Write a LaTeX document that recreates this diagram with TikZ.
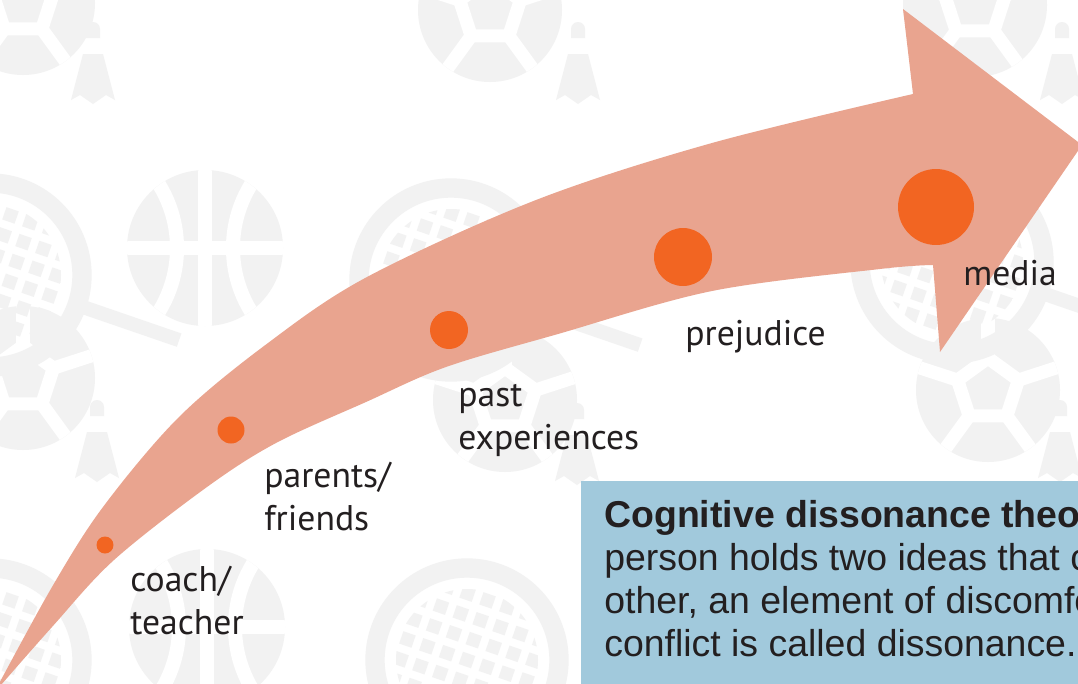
\documentclass[tikz,border=0pt]{standalone}
\usepackage{fontspec}
\setmainfont{PT Sans}
\newfontfamily\boxfont{Liberation Sans}
\usetikzlibrary{positioning}

\definecolor{patgray}{RGB}{242, 242, 242}
\definecolor{arrowpink}{RGB}{233, 164, 143}
\definecolor{dotorange}{RGB}{242, 101, 34}
\definecolor{boxblue}{RGB}{161, 201, 220}
\definecolor{inkdark}{RGB}{35, 31, 32}

\tikzset{
  dot/.style = {fill = dotorange, circle, inner sep = 0},
  lbl/.style = {text = inkdark, align = left, inner sep = 0,
                font = \fontsize{20.3}{24.4}\selectfont},
  boxtxt/.style = {text = inkdark, align = left, inner sep = 0,
                   font = \boxfont\fontsize{21.3}{24.4}\selectfont},
  % background icons, sizes in pixels of the sheet
  pics/basketball/.style = {code = {
    \fill [patgray] (0, 0) circle (78);
    \begin{scope}
      \clip (0, 0) circle (78);
      \draw [white, line width = 8pt] (0, -80) -- (0, 80);
      \draw [white, line width = 8pt] (-80, 0) -- (80, 0);
      \draw [white, line width = 8pt] (-149, 0) circle (121);
      \draw [white, line width = 8pt] (149, 0) circle (121);
    \end{scope}
  }},
  pics/soccer/.style = {code = {
    \fill [patgray] (0, 0) circle (72);
    \begin{scope}
      \clip (0, 0) circle (72);
      \foreach \a in {-90, -18, 54, 126, 198}
        \draw [white, line width = 7.5pt] (\a:32) -- (\a:80);
      \draw [white, line width = 7.5pt, line join = round]
        (-90:32) -- (-18:32) -- (54:32) -- (126:32) -- (198:32) -- cycle;
    \end{scope}
  }},
  pics/racket/.style = {code = {
    \draw [patgray, line width = 11pt] (0, 0) circle (92);
    \draw [patgray, line width = 8pt] (19:100) -- (19:200);
    \begin{scope}
      \clip (0, 0) circle (71);
      \foreach \i in {-4, ..., 4}
        \foreach \j in {-4, ..., 4}
          \fill [patgray, rotate = -19] (\i*21 - 6.5, \j*21 - 6.5) rectangle ++(13, 13);
    \end{scope}
  }},
  pics/shuttle/.style = {code = {
    \fill [patgray] (-7, -24) -- (-7, -33) arc [start angle = 180, end angle = 360, radius = 7]
      -- (7, -24) -- cycle;
    \fill [patgray] (-10, -8) -- (10, -8) -- (22, 38) -- (13, 33) -- (0, 42)
      -- (-13, 33) -- (-22, 38) -- cycle;
  }}
}

\begin{document}
\begin{tikzpicture}[x = 0.02cm, y = -0.02cm]
  \useasboundingbox (0, 0) rectangle (1078, 683);
  \clip (0, 0) rectangle (1078, 683);
  \fill [white] (0, 0) rectangle (1078, 683);

  % sports pattern behind everything
  \pic at (23, 3) {soccer};
  \pic at (490, 10) {soccer};
  \pic at (975, 5) {soccer};
  \pic at (23, 378) {soccer};
  \pic at (505, 400) {soccer};
  \pic at (988, 390) {soccer};
  \pic at (93, 62) {shuttle};
  \pic at (578, 62) {shuttle};
  \pic at (1062, 62) {shuttle};
  \pic at (97, 440) {shuttle};
  \pic at (577, 443) {shuttle};
  \pic at (1060, 440) {shuttle};
  \pic at (-10, 275) {racket};
  \pic at (451, 280) {racket};
  \pic at (952, 262) {racket};
  \pic at (-10, 660) {racket};
  \pic at (467, 660) {racket};
  \pic at (205, 248) {basketball};
  \pic at (207, 627) {basketball};

  % the curved arrow
  \fill [arrowpink]
    plot [smooth, tension = 0.55] coordinates {(-6, 693) (52, 587) (103, 507) (179, 417)
      (268, 343) (367, 277) (536, 200) (712, 143) (913, 94)}
    -- (903, 9) -- (1082, 145) -- (940, 352) -- (933, 265)
    -- plot [smooth, tension = 0.55] coordinates {(933, 265) (880, 269) (712, 291)
      (558, 334) (446, 367) (366, 402) (276, 443) (207, 487) (114, 560) (52, 627) (-6, 693)}
    -- cycle;

  \node [dot, minimum size = 0.34cm] (coachdot) at (105, 545) {};
  \node [dot, minimum size = 0.54cm] (parentsdot) at (231, 430) {};
  \node [dot, minimum size = 0.76cm] (pastdot) at (449, 330) {};
  \node [dot, minimum size = 1.16cm] (prejudicedot) at (683, 257) {};
  \node [dot, minimum size = 1.52cm] (mediadot) at (936, 207) {};

  % base of a two line label is its last line
  \node [lbl, anchor = base west] (coachlbl) at (130, 634) {coach/\\teacher};
  \node [lbl, anchor = base west] (parentslbl) at (264, 530) {parents/\\friends};
  \node [lbl, anchor = base west] (pastlbl) at (458, 449) {past\\experiences};
  \node [lbl, anchor = base west] (prejudicelbl) at (685, 345) {prejudice};
  \node [lbl, anchor = base west] (medialbl) at (963, 285) {media};

  % definition box
  \fill [boxblue] (581, 481) rectangle (1100, 700);
  \node [boxtxt, anchor = base west] (theory) at (604, 656)
    {\textbf{Cognitive dissonance theo}\\person holds two ideas that c\\
     other, an element of discomfo\\conflict is called dissonance.};
\end{tikzpicture}
\end{document}
